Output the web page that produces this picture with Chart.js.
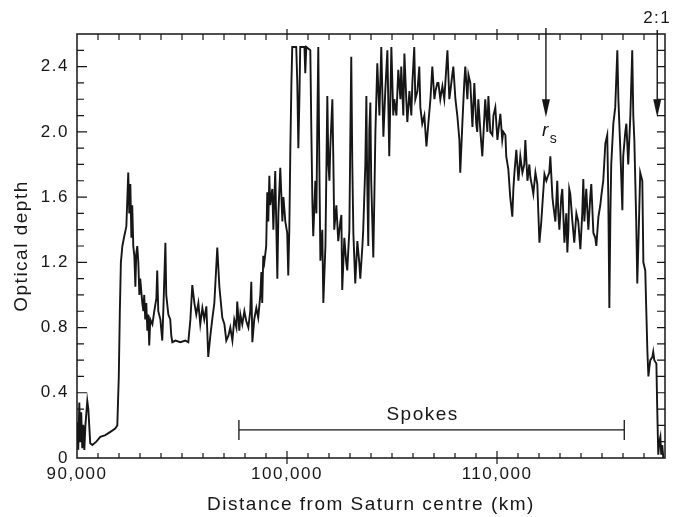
<!DOCTYPE html>
<html>
<head>
<meta charset="utf-8">
<script src="https://cdn.jsdelivr.net/npm/chart.js@4.4.1/dist/chart.umd.min.js"></script>
<style>
  html, body { margin: 0; padding: 0; background: #fff; }
  #wrap { width: 681px; height: 517px; }
</style>
</head>
<body>
<div id="wrap"><canvas id="chart" width="681" height="517"></canvas></div>
<script>
// radial distance (km) and optical depth
const distanceKm = [
  90010, 90060, 90110, 90160, 90200, 90250, 90300, 90350, 90400, 90490, 90540, 90630, 90730, 90920,
  91110, 91350, 91590, 91820, 91920, 91990, 92040, 92090, 92160, 92250, 92350, 92400, 92440, 92490,
  92540, 92590, 92630, 92680, 92730, 92780, 92820, 92870, 92920, 92970, 93010, 93110, 93160, 93200,
  93250, 93300, 93350, 93390, 93440, 93490, 93590, 93680, 93780, 93820, 93870, 93970, 94060, 94110,
  94210, 94250, 94350, 94440, 94490, 94540, 94690, 94920, 95160, 95300, 95400, 95490, 95590, 95680,
  95780, 95870, 95970, 96060, 96160, 96250, 96350, 96440, 96540, 96680, 96780, 96920, 97020, 97110,
  97210, 97300, 97400, 97490, 97590, 97630, 97730, 97780, 97870, 97970, 98060, 98160, 98250, 98300,
  98350, 98440, 98540, 98630, 98730, 98780, 98820, 98870, 98920, 99010, 99060, 99110, 99160, 99200,
  99300, 99350, 99440, 99540, 99590, 99680, 99780, 99830, 99920, 100010, 100060, 100110, 100160, 100210,
  100250, 100440, 100490, 100540, 100590, 100630, 100830, 100870, 100920, 101110, 101160, 101210, 101250, 101350,
  101400, 101440, 101490, 101540, 101590, 101680, 101730, 101830, 101920, 101970, 102020, 102060, 102160, 102210,
  102250, 102350, 102440, 102540, 102590, 102630, 102730, 102820, 102870, 102970, 103010, 103060, 103110, 103160,
  103250, 103350, 103440, 103490, 103590, 103630, 103730, 103780, 103820, 103870, 103920, 103970, 104010, 104110,
  104160, 104210, 104300, 104400, 104490, 104590, 104680, 104780, 104870, 104970, 105060, 105110, 105210, 105300,
  105400, 105440, 105540, 105590, 105680, 105730, 105830, 105920, 105970, 106060, 106110, 106210, 106300, 106350,
  106440, 106540, 106640, 106730, 106830, 106920, 107020, 107070, 107160, 107210, 107300, 107400, 107490, 107540,
  107640, 107730, 107780, 107870, 107920, 108020, 108110, 108210, 108250, 108350, 108440, 108490, 108590, 108640,
  108730, 108830, 108920, 109010, 109060, 109110, 109210, 109300, 109400, 109440, 109540, 109590, 109680, 109780,
  109830, 109920, 110020, 110060, 110160, 110250, 110300, 110400, 110440, 110540, 110630, 110730, 110780, 110830,
  110920, 111020, 111110, 111210, 111300, 111350, 111450, 111540, 111590, 111680, 111730, 111830, 111920, 112020,
  112110, 112160, 112260, 112350, 112400, 112490, 112540, 112640, 112680, 112780, 112870, 112920, 112970, 113060,
  113110, 113210, 113300, 113350, 113400, 113440, 113490, 113590, 113680, 113780, 113870, 113970, 114060, 114110,
  114160, 114250, 114350, 114440, 114490, 114590, 114680, 114730, 114830, 114920, 114970, 115060, 115160, 115250,
  115300, 115350, 115400, 115440, 115540, 115630, 115730, 115780, 115870, 115970, 116010, 116110, 116160, 116250,
  116350, 116440, 116490, 116540, 116630, 116680, 116730, 116820, 116920, 116970, 117060, 117110, 117160, 117210,
  117250, 117300, 117400, 117440, 117490, 117590, 117630, 117680, 117730, 117780, 117820, 117870, 117920
];
const opticalDepth = [
  0.22, 0.05, 0.34, 0.10, 0.28, 0.06, 0.20, 0.05, 0.20, 0.35, 0.30, 0.09, 0.08, 0.10,
  0.13, 0.14, 0.16, 0.18, 0.20, 0.50, 0.90, 1.20, 1.30, 1.36, 1.42, 1.60, 1.75, 1.50,
  1.68, 1.35, 1.55, 1.30, 1.24, 1.05, 1.25, 1.30, 1.20, 1.00, 1.10, 0.95, 0.90, 1.00,
  0.85, 0.95, 0.78, 0.88, 0.69, 0.85, 0.82, 0.90, 0.98, 1.15, 0.90, 0.85, 0.72, 0.90,
  1.32, 1.00, 0.88, 0.85, 0.75, 0.71, 0.72, 0.71, 0.72, 0.71, 0.85, 1.06, 0.95, 0.88,
  0.95, 0.82, 0.92, 0.85, 0.93, 0.62, 0.75, 0.85, 0.95, 1.29, 1.05, 0.86, 0.82, 0.72,
  0.75, 0.80, 0.72, 0.85, 0.80, 0.96, 0.78, 0.88, 0.82, 0.90, 0.84, 0.80, 0.90, 1.08,
  0.71, 0.85, 0.92, 0.86, 1.00, 1.14, 0.95, 1.24, 1.20, 1.30, 1.63, 1.45, 1.73, 1.55,
  1.65, 1.40, 1.76, 1.10, 1.50, 1.78, 1.45, 1.60, 1.45, 1.38, 1.12, 1.40, 1.90, 2.30,
  2.52, 2.52, 2.30, 1.90, 2.20, 2.52, 2.52, 2.36, 2.52, 2.50, 2.00, 1.56, 1.36, 1.70,
  1.50, 2.00, 2.52, 1.80, 1.21, 1.40, 0.95, 1.30, 2.22, 1.80, 1.70, 1.90, 2.20, 1.80,
  1.40, 1.55, 1.33, 1.45, 1.49, 1.03, 1.35, 1.20, 1.15, 1.40, 1.90, 2.46, 1.80, 1.38,
  1.07, 1.33, 1.20, 1.10, 1.30, 1.40, 1.80, 2.22, 1.70, 1.30, 2.01, 2.18, 1.70, 1.23,
  1.60, 2.00, 2.42, 2.10, 2.52, 1.97, 2.25, 2.50, 1.85, 2.52, 2.10, 2.20, 2.10, 2.38,
  2.20, 2.40, 2.10, 2.48, 2.20, 2.06, 2.25, 2.10, 2.30, 2.52, 2.20, 2.25, 2.40, 2.15,
  2.05, 2.10, 1.91, 2.05, 2.20, 2.40, 2.20, 2.25, 2.30, 2.30, 2.20, 2.28, 2.20, 2.30,
  2.50, 2.20, 2.25, 2.35, 2.40, 2.20, 2.10, 1.95, 1.75, 2.05, 2.30, 2.40, 2.20, 2.35,
  2.30, 2.03, 2.30, 2.05, 2.00, 2.20, 2.00, 1.85, 2.10, 2.20, 2.00, 2.22, 2.00, 1.98,
  2.10, 2.15, 1.95, 2.00, 2.11, 1.95, 2.00, 1.98, 1.85, 1.77, 1.60, 1.48, 1.65, 1.75,
  1.89, 1.70, 1.85, 1.75, 1.80, 1.95, 1.70, 1.80, 1.72, 1.66, 1.62, 1.75, 1.68, 1.32,
  1.45, 1.55, 1.74, 1.70, 1.72, 1.75, 1.85, 1.60, 1.55, 1.45, 1.70, 1.50, 1.40, 1.60,
  1.65, 1.32, 1.50, 1.26, 1.40, 1.65, 1.62, 1.45, 1.32, 1.50, 1.45, 1.28, 1.50, 1.71,
  1.45, 1.65, 1.40, 1.60, 1.68, 1.38, 1.35, 1.30, 1.48, 1.55, 1.61, 1.70, 1.93, 1.98,
  1.60, 0.92, 1.50, 1.80, 2.05, 2.15, 2.50, 2.20, 1.90, 1.52, 1.85, 2.00, 2.05, 1.80,
  2.10, 2.50, 2.10, 1.95, 1.45, 1.07, 1.30, 1.75, 1.70, 1.20, 1.15, 0.90, 0.66, 0.50,
  0.55, 0.60, 0.62, 0.65, 0.60, 0.58, 0.30, 0.02, 0.10, 0.13, 0.02, 0.08, 0.00
];

const xTickValues = [90000, 100000, 110000];
const yTickValues = [0, 0.4, 0.8, 1.2, 1.6, 2.0, 2.4];
const xRange = [90000, 118000];
const yRange = [0, 2.6];

const spokesRange = [97710, 116060];
const spokesDepth = 0.172;
const spokesLabel = "Spokes";
const rsKm = 112330;
const resonanceKm = 117630;
const arrowTipDepth = 2.09;

const ink = "#161616";
const fontFamily = "'Liberation Sans', Arial, Helvetica, sans-serif";

function drawArrow(ctx, x, yTop, yTip) {
  ctx.beginPath();
  ctx.moveTo(x, yTop);
  ctx.lineTo(x, yTip - 10);
  ctx.stroke();
  ctx.beginPath();
  ctx.moveTo(x, yTip);
  ctx.lineTo(x - 4, yTip - 18);
  ctx.lineTo(x + 4, yTip - 18);
  ctx.closePath();
  ctx.fill();
}

const framePlugin = {
  id: "framePlugin",
  beforeDraw(chart) {
    chart.ctx.letterSpacing = "1.5px";
  },
  afterDraw(chart) {
    const { ctx, chartArea: a, scales: { x, y } } = chart;
    ctx.save();
    ctx.strokeStyle = ink;
    ctx.fillStyle = ink;
    ctx.lineWidth = 1.5;
    ctx.strokeRect(a.left, a.top, a.right - a.left, a.bottom - a.top);

    // inward tick marks, 1000 km and 0.1 apart
    ctx.lineWidth = 1.2;
    ctx.beginPath();
    for (let km = 91000; km < xRange[1]; km += 1000) {
      const px = x.getPixelForValue(km);
      const major = km % 10000 === 0;
      ctx.moveTo(px, a.bottom + (major ? 6 : 0));
      ctx.lineTo(px, a.bottom - (major ? 7 : 5));
      ctx.moveTo(px, a.top - (major ? 5 : 0));
      ctx.lineTo(px, a.top + 6);
    }
    for (let i = 1; i <= 25; i++) {
      const v = i / 10;
      const py = y.getPixelForValue(v);
      const major = i % 4 === 0;
      ctx.moveTo(a.left, py);
      ctx.lineTo(a.left + (major ? 10 : 7), py);
      ctx.moveTo(a.right, py);
      ctx.lineTo(a.right - 8, py);
    }
    ctx.stroke();

    // spokes bar
    const sx0 = x.getPixelForValue(spokesRange[0]);
    const sx1 = x.getPixelForValue(spokesRange[1]);
    const sy = y.getPixelForValue(spokesDepth);
    ctx.lineWidth = 1.3;
    ctx.beginPath();
    ctx.moveTo(sx0, sy);
    ctx.lineTo(sx1, sy);
    ctx.moveTo(sx0, sy - 10);
    ctx.lineTo(sx0, sy + 10);
    ctx.moveTo(sx1, sy - 10);
    ctx.lineTo(sx1, sy + 10);
    ctx.stroke();

    ctx.font = "19px " + fontFamily;
    ctx.textAlign = "center";
    ctx.textBaseline = "middle";
    ctx.fillText(spokesLabel, (sx0 + sx1) / 2 - 9, sy - 15);

    // arrows for r_s and the 2:1 resonance
    const tip = y.getPixelForValue(arrowTipDepth);
    const rx = x.getPixelForValue(rsKm);
    const qx = x.getPixelForValue(resonanceKm);
    ctx.lineWidth = 1.4;
    drawArrow(ctx, rx, a.top - 6, tip);
    drawArrow(ctx, qx, a.top - 4, tip);

    ctx.font = "italic 19px " + fontFamily;
    ctx.fillText("r", rx, tip + 14);
    ctx.font = "14px " + fontFamily;
    ctx.fillText("s", rx + 8, tip + 22);
    ctx.font = "17px " + fontFamily;
    ctx.fillText("2:1", qx, a.top - 16);
    ctx.restore();
  }
};

new Chart(document.getElementById("chart"), {
  type: "line",
  data: {
    datasets: [{
      data: distanceKm.map((d, i) => ({ x: d, y: opticalDepth[i] })),
      borderColor: ink,
      borderWidth: 1.9,
      pointRadius: 0,
      tension: 0,
      fill: false
    }]
  },
  options: {
    responsive: false,
    animation: false,
    layout: { padding: { top: 34, right: 16, left: 0, bottom: 0 } },
    plugins: { legend: { display: false }, tooltip: { enabled: false } },
    scales: {
      x: {
        type: "linear",
        min: xRange[0],
        max: xRange[1],
        afterBuildTicks: (scale) => { scale.ticks = xTickValues.map((v) => ({ value: v })); },
        afterFit: (scale) => { scale.height = 59; },
        grid: { display: false, drawTicks: false },
        border: { display: false },
        ticks: {
          color: ink,
          padding: 6,
          maxRotation: 0,
          autoSkip: false,
          font: { family: fontFamily, size: 17 },
          callback: (v) => Number(v).toLocaleString("en-US")
        },
        title: {
          display: true,
          text: "Distance from Saturn centre (km)",
          color: ink,
          font: { family: fontFamily, size: 19 },
          padding: { top: 0, bottom: 1 }
        }
      },
      y: {
        min: yRange[0],
        max: yRange[1],
        afterBuildTicks: (scale) => { scale.ticks = yTickValues.map((v) => ({ value: v })); },
        afterFit: (scale) => { scale.width = 77; },
        grid: { display: false, drawTicks: false },
        border: { display: false },
        ticks: {
          color: ink,
          padding: 8,
          font: { family: fontFamily, size: 17 },
          callback: (v) => (v === 0 ? "0" : Number(v).toFixed(1))
        },
        title: {
          display: true,
          text: "Optical depth",
          color: ink,
          font: { family: fontFamily, size: 19 },
          padding: { top: 10, bottom: 0 }
        }
      }
    }
  },
  plugins: [framePlugin]
});
</script>
</body>
</html>
